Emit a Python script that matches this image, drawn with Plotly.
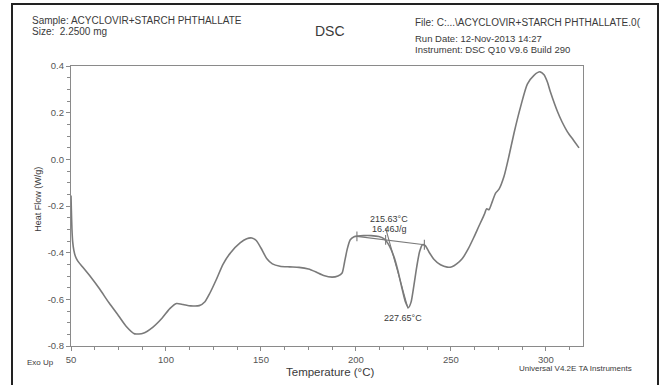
import plotly.graph_objects as go

temperature = [50.0, 50.2, 50.5, 50.9, 51.5, 52.3, 53.5, 56, 60, 65, 70, 75, 79, 83.5, 88, 93, 98, 102,
               105.5, 109, 113, 117.5, 120.5, 123, 126.5, 130, 134, 139, 142.5, 145.2, 147.5, 150, 153,
               156, 160, 165, 170, 175, 179, 183, 187.4, 190.5, 192.7, 194, 195.4, 197, 199, 201, 204,
               208, 212, 215, 217.5, 220, 222, 224, 226, 227.65, 229, 230.5, 232, 233.5, 235, 236.5,
               238.5, 241, 244.5, 248, 250.5, 253, 256, 259, 262, 264.5, 266.5, 267.6, 268.8, 270,
               271.8, 273.5, 275.3, 277.9, 280.5, 283.2, 286.7, 290.2, 293.7, 296.9, 299, 300.8, 302.5,
               306, 308.5, 311.3, 314.5, 317.4]
heat_flow = [-0.155, -0.22, -0.30, -0.355, -0.39, -0.415, -0.435, -0.46, -0.50, -0.555, -0.615, -0.67,
             -0.715, -0.748, -0.745, -0.72, -0.68, -0.64, -0.618, -0.622, -0.628, -0.627, -0.61, -0.575,
             -0.515, -0.45, -0.40, -0.358, -0.34, -0.337, -0.348, -0.38, -0.425, -0.448, -0.458, -0.461,
             -0.463, -0.47, -0.483, -0.498, -0.505, -0.50, -0.487, -0.44, -0.385, -0.345, -0.332, -0.329,
             -0.327, -0.327, -0.331, -0.342, -0.37, -0.418, -0.475, -0.545, -0.61, -0.635, -0.612, -0.54,
             -0.46, -0.395, -0.366, -0.37, -0.398, -0.428, -0.452, -0.462, -0.46, -0.448, -0.425, -0.385,
             -0.335, -0.29, -0.255, -0.235, -0.212, -0.216, -0.18, -0.145, -0.128, -0.074, 0.013, 0.113,
             0.227, 0.322, 0.36, 0.375, 0.362, 0.33, 0.285, 0.206, 0.16, 0.118, 0.082, 0.049]

# analysis construction lines
baseline_x = [200.5, 236.0]
baseline_y = [-0.330, -0.366]
tangent_x = [215.6, 227.4]
tangent_y = [-0.295, -0.640]
marker_x = [200.5, 215.6, 236.0]
marker_y = [-0.330, -0.345, -0.366]

x_ticks = [50, 100, 150, 200, 250, 300]
y_ticks = [0.4, 0.2, 0.0, -0.2, -0.4, -0.6, -0.8]

GRAY = "#7a7a7a"
TXT = "#3a3a3a"
FONT = "Liberation Sans, Arial, sans-serif"

fig = go.Figure()
fig.add_trace(go.Scatter(x=temperature, y=heat_flow, mode="lines",
                         line=dict(color=GRAY, width=1.6, shape="spline", smoothing=0.6),
                         hoverinfo="skip", showlegend=False))
fig.add_trace(go.Scatter(x=baseline_x, y=baseline_y, mode="lines",
                         line=dict(color=GRAY, width=1.1), showlegend=False))
fig.add_trace(go.Scatter(x=tangent_x, y=tangent_y, mode="lines",
                         line=dict(color=GRAY, width=1.1), showlegend=False))
fig.add_trace(go.Scatter(x=marker_x, y=marker_y, mode="markers",
                         marker=dict(symbol="line-ns", size=7, line=dict(color=GRAY, width=1.1)),
                         showlegend=False))

ann_font = dict(family=FONT, size=9, color=TXT)
fig.add_annotation(x=217.4, y=-0.257, text="215.63°C", showarrow=False, font=ann_font)
fig.add_annotation(x=217.4, y=-0.298, text="16.46J/g", showarrow=False, font=ann_font)
fig.add_annotation(x=225.0, y=-0.682, text="227.65°C", showarrow=False, font=ann_font)

hdr = dict(family=FONT, size=10, color=TXT)
def paper_text(px, py, text, font, xanchor="left", angle=0):
    fig.add_annotation(xref="paper", yref="paper",
                       x=(px - 71) / 512, y=(346.5 - py) / 280.5,
                       text=text, showarrow=False, xanchor=xanchor, yanchor="middle",
                       font=font, textangle=angle)

paper_text(30, 20.5, "Sample: ACYCLOVIR+STARCH PHTHALLATE", hdr)
paper_text(30, 31.5, "Size:  2.2500 mg", hdr)
paper_text(330, 31, "DSC", dict(family=FONT, size=14, color=TXT), xanchor="center")
paper_text(413, 22.5, "File: C:...\\ACYCLOVIR+STARCH PHTHALLATE.0(", hdr)
paper_text(413, 38.5, "Run Date: 12-Nov-2013 14:27", dict(family=FONT, size=9.5, color=TXT))
paper_text(413, 49, "Instrument: DSC Q10 V9.6 Build 290", dict(family=FONT, size=9.5, color=TXT))
paper_text(25, 363, "Exo Up", dict(family=FONT, size=8, color=TXT))
paper_text(517, 369, "Universal V4.2E TA Instruments", dict(family=FONT, size=8, color=TXT))
paper_text(330, 373, "Temperature (°C)", dict(family=FONT, size=11.5, color=TXT), xanchor="center")
paper_text(38, 200, "Heat Flow (W/g)", dict(family=FONT, size=9, color=TXT), xanchor="center", angle=-90)

# outer frame of the scanned page
fig.add_shape(type="rect", xref="paper", yref="paper",
              x0=(12 - 71) / 512, x1=(658 - 71) / 512,
              y0=(346.5 - 395) / 280.5, y1=(346.5 - 4) / 280.5,
              line=dict(color="#222222", width=2), fillcolor="rgba(0,0,0,0)")

axis_common = dict(showline=True, linecolor="#8a8a8a", linewidth=1.2, mirror=True,
                   showgrid=False, zeroline=False, ticks="outside", ticklen=4,
                   tickcolor="#8a8a8a", tickwidth=1,
                   tickfont=dict(family=FONT, size=9.5, color="#555555"))

fig.update_xaxes(range=[50, 319.5], tickvals=x_ticks, ticktext=[str(v) for v in x_ticks],
                 minor=dict(dtick=12.5, ticklen=2.5, tickcolor="#8a8a8a", ticks="outside"),
                 **axis_common)
fig.update_yaxes(range=[-0.8, 0.4], tickvals=y_ticks, ticktext=[f"{v:.1f}" for v in y_ticks],
                 minor=dict(dtick=0.05, ticklen=2.5, tickcolor="#8a8a8a", ticks="outside"),
                 **axis_common)

fig.update_layout(width=664, height=385, margin=dict(l=71, r=81, t=66, b=38.5),
                  plot_bgcolor="white", paper_bgcolor="white", showlegend=False)

fig.write_html("out.html")
